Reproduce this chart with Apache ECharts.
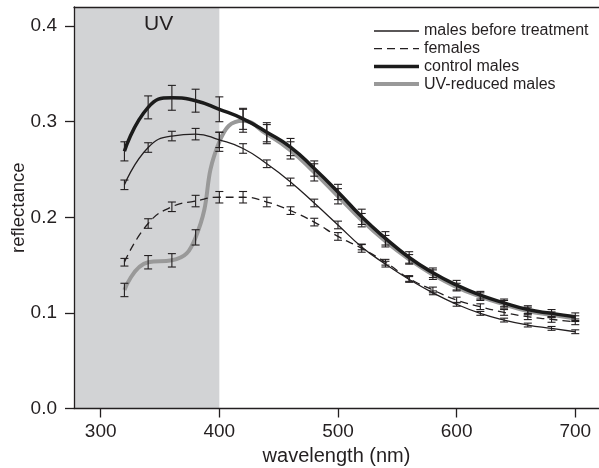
<!DOCTYPE html>
<html>
<head>
<meta charset="utf-8">
<script src="https://cdn.jsdelivr.net/npm/echarts@6/dist/echarts.min.js"></script>
<style>
  html, body { margin: 0; padding: 0; background: #fff; }
  #chart { width: 599px; height: 468px; }
</style>
</head>
<body>
<div id="chart"></div>
<script>
// Reflectance spectra (mean ± SE) sampled every 20 nm
const wavelengths = [320, 340, 360, 380, 400, 420, 440, 460, 480, 500,
                     520, 540, 560, 580, 600, 620, 640, 660, 680, 700];

const malesBefore    = [0.234, 0.273, 0.285, 0.287, 0.281, 0.272, 0.256, 0.237, 0.215, 0.192,
                        0.169, 0.151, 0.135, 0.121, 0.109, 0.0995, 0.0925, 0.0873, 0.0838, 0.0803];
const malesBeforeErr = [0.005, 0.005, 0.005, 0.006, 0.008, 0.005, 0.004, 0.004, 0.004, 0.004,
                        0.003, 0.003, 0.003, 0.002, 0.002, 0.002, 0.002, 0.002, 0.002, 0.002];

const females        = [0.153, 0.1935, 0.211, 0.217, 0.221, 0.221, 0.216, 0.207, 0.195, 0.180,
                        0.1675, 0.153, 0.136, 0.124, 0.1135, 0.1065, 0.1005, 0.096, 0.0932, 0.0907];
const femalesErr     = [0.004, 0.005, 0.005, 0.006, 0.006, 0.006, 0.005, 0.004, 0.004, 0.004,
                        0.004, 0.003, 0.003, 0.003, 0.003, 0.003, 0.003, 0.003, 0.003, 0.003];

const controlMales   = [0.269, 0.315, 0.325, 0.322, 0.313, 0.303, 0.289, 0.2735, 0.251, 0.2265,
                        0.2005, 0.178, 0.158, 0.142, 0.129, 0.1185, 0.1105, 0.1035, 0.0995, 0.096];
const controlErr     = [0.010, 0.012, 0.013, 0.012, 0.013, 0.011, 0.010, 0.009, 0.008, 0.008,
                        0.008, 0.007, 0.006, 0.005, 0.005, 0.004, 0.004, 0.004, 0.004, 0.004];

const uvReduced      = [0.124, 0.153, 0.155, 0.179, 0.279, 0.301, 0.287, 0.270, 0.247, 0.222,
                        0.197, 0.175, 0.156, 0.140, 0.127, 0.117, 0.109, 0.102, 0.098, 0.094];
const uvReducedErr   = [0.007, 0.007, 0.007, 0.008, 0.010, 0.012, 0.010, 0.009, 0.009, 0.008,
                        0.007, 0.006, 0.005, 0.005, 0.004, 0.004, 0.004, 0.004, 0.003, 0.003];

// Axis extent, UV band edge and tick positions
const xMin = 277.5;
const xMax = 720;
const uvEdge = 400;
const xTicks = [300, 400, 500, 600, 700];
const yTicks = [0.0, 0.1, 0.2, 0.3, 0.4];

const seriesNames = ['males before treatment', 'females', 'control males', 'UV-reduced males'];

const ink = '#231f20';
const fontFamily = '"Liberation Sans", Arial, sans-serif';

function pairs(values) {
  return wavelengths.map((w, i) => [w, values[i]]);
}

function errorData(values, errs) {
  return wavelengths.map((w, i) => [w, values[i] - errs[i], values[i] + errs[i]]);
}

function errorSeries(values, errs) {
  return {
    type: 'custom',
    silent: true,
    z: 10,
    data: errorData(values, errs),
    encode: { x: 0, y: [1, 2] },
    renderItem: function (params, api) {
      const x = api.value(0);
      const lo = api.coord([x, api.value(1)]);
      const hi = api.coord([x, api.value(2)]);
      const cap = 4;
      const style = { stroke: ink, lineWidth: 1.1 };
      return {
        type: 'group',
        children: [
          { type: 'line', shape: { x1: lo[0], y1: lo[1], x2: hi[0], y2: hi[1] }, style: style },
          { type: 'line', shape: { x1: lo[0] - cap, y1: lo[1], x2: lo[0] + cap, y2: lo[1] }, style: style },
          { type: 'line', shape: { x1: hi[0] - cap, y1: hi[1], x2: hi[0] + cap, y2: hi[1] }, style: style }
        ]
      };
    }
  };
}

const chart = echarts.init(document.getElementById('chart'), null, { renderer: 'canvas' });

const option = {
  animation: false,
  backgroundColor: '#ffffff',
  textStyle: { fontFamily: fontFamily, color: ink },
  grid: { left: 74, right: 0, top: 7, bottom: 59.5, containLabel: false, outerBoundsMode: 'none' },
  legend: {
    data: seriesNames,
    orient: 'vertical',
    left: 372,
    top: 23,
    padding: 0,
    itemWidth: 45,
    itemHeight: 14,
    itemGap: 1.7,
    itemStyle: { opacity: 0 },
    lineStyle: { width: 'inherit' },
    textStyle: { fontSize: 16, color: ink, fontFamily: fontFamily }
  },
  xAxis: [
    {
      type: 'value',
      z: 12,
      min: xMin,
      max: xMax,
      name: 'wavelength (nm)',
      nameLocation: 'middle',
      nameGap: 36,
      nameTextStyle: { fontSize: 20, color: ink },
      axisLine: { show: true, onZero: false, lineStyle: { color: ink, width: 1.3 } },
      axisTick: { show: true, length: 9, customValues: xTicks, lineStyle: { color: ink, width: 1.3 } },
      axisLabel: { customValues: xTicks, fontSize: 19, color: ink, margin: 14 },
      splitLine: { show: false }
    },
    {
      type: 'value',
      z: 12,
      position: 'top',
      min: xMin,
      max: xMax,
      axisLine: { show: true, onZero: false, lineStyle: { color: ink, width: 1.3 } },
      axisTick: { show: false },
      axisLabel: { show: false },
      splitLine: { show: false }
    }
  ],
  yAxis: {
    type: 'value',
    z: 12,
    min: 0,
    max: 0.42,
    name: 'reflectance',
    nameLocation: 'middle',
    nameGap: 46,
    nameMoveOverlap: false,
    nameTextStyle: { fontSize: 18.5, color: ink },
    axisLine: { show: true, onZero: false, lineStyle: { color: ink, width: 1.3 } },
    axisTick: { show: true, length: 9, customValues: yTicks, lineStyle: { color: ink, width: 1.3 } },
    axisLabel: {
      customValues: yTicks,
      fontSize: 19,
      color: ink,
      margin: 17,
      formatter: v => v.toFixed(1)
    },
    splitLine: { show: false }
  },
  series: [
    {
      name: 'UV-reduced males',
      type: 'line',
      data: pairs(uvReduced),
      smooth: 0.5,
      symbol: 'none',
      z: 2,
      lineStyle: { color: '#999999', width: 4 },
      itemStyle: { color: '#999999' },
      markArea: {
        silent: true,
        itemStyle: { color: '#d2d3d5' },
        label: {
          show: true,
          position: 'insideTop',
          offset: [12, 2],
          fontSize: 21,
          color: ink,
          fontFamily: fontFamily
        },
        data: [[{ name: 'UV', xAxis: xMin }, { xAxis: uvEdge }]]
      }
    },
    {
      name: 'females',
      type: 'line',
      data: pairs(females),
      smooth: 0.5,
      symbol: 'none',
      z: 3,
      lineStyle: { color: ink, width: 1.3, type: [8, 5] },
      itemStyle: { color: ink }
    },
    {
      name: 'males before treatment',
      type: 'line',
      data: pairs(malesBefore),
      smooth: 0.5,
      symbol: 'none',
      z: 3,
      lineStyle: { color: ink, width: 1.3 },
      itemStyle: { color: ink }
    },
    {
      name: 'control males',
      type: 'line',
      data: pairs(controlMales),
      smooth: 0.5,
      symbol: 'none',
      z: 4,
      lineStyle: { color: '#1b1b1b', width: 3.5 },
      itemStyle: { color: '#1b1b1b' }
    },
    errorSeries(uvReduced, uvReducedErr),
    errorSeries(females, femalesErr),
    errorSeries(malesBefore, malesBeforeErr),
    errorSeries(controlMales, controlErr)
  ]
};

chart.setOption(option);
</script>
</body>
</html>
